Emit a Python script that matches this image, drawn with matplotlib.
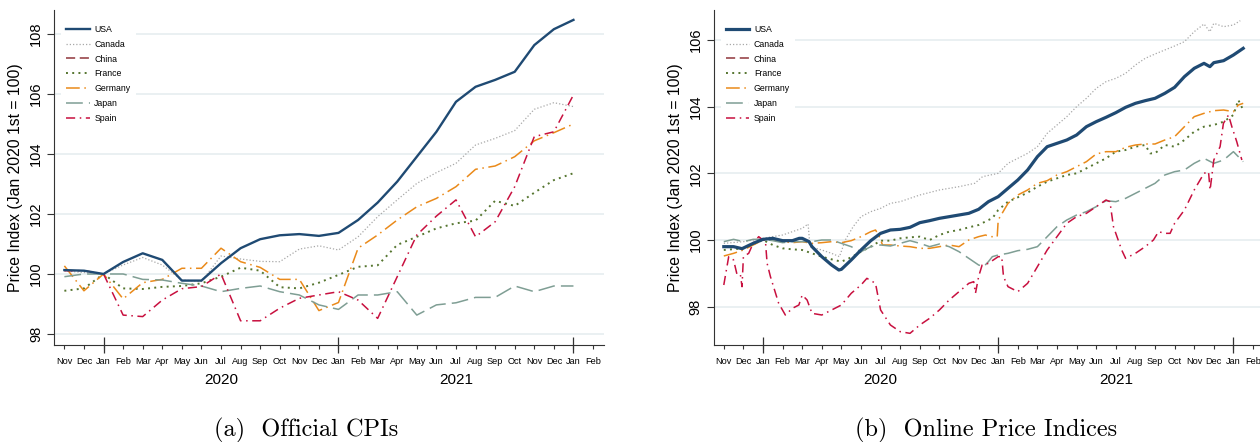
import matplotlib
matplotlib.use("Agg")
import matplotlib.pyplot as plt
import matplotlib.transforms as mtransforms

plt.rcParams['font.family'] = ['Liberation Sans', 'DejaVu Sans']

# ---------------- DATA ----------------
# x positions are months since Jan 2020 (0 = Jan 2020)
month_labels = ['Nov', 'Dec', 'Jan', 'Feb', 'Mar', 'Apr', 'May', 'Jun', 'Jul', 'Aug', 'Sep', 'Oct',
                'Nov', 'Dec', 'Jan', 'Feb', 'Mar', 'Apr', 'May', 'Jun', 'Jul', 'Aug', 'Sep', 'Oct',
                'Nov', 'Dec', 'Jan', 'Feb']
month_ticks = list(range(-2, 26))
year_ticks = [0, 12, 24]
year_labels = ['2020', '2021']
year_label_pos = [6, 18]
countries = ['USA', 'Canada', 'China', 'France', 'Germany', 'Japan', 'Spain']

# (a) Official CPIs, monthly Nov 2019 .. Jan 2022
cpi_months = list(range(-2, 25))
cpi_usa = [100.13, 100.11, 100.0, 100.4, 100.69, 100.47, 99.78, 99.78, 100.36, 100.86, 101.16, 101.29,
           101.33, 101.27, 101.37, 101.8, 102.38, 103.08, 103.91, 104.74, 105.74, 106.24, 106.47, 106.74,
           107.63, 108.16, 108.47]
cpi_canada = [100.1, 100.05, 100.0, 100.3, 100.55, 100.3, 99.8, 99.75, 100.6, 100.5, 100.42, 100.41,
              100.83, 100.94, 100.8, 101.24, 101.91, 102.47, 103.02, 103.38, 103.69, 104.3, 104.52, 104.78,
              105.49, 105.71, 105.58]
cpi_china_months = []
cpi_china = []
cpi_france = [99.44, 99.52, 100.0, 99.52, 99.5, 99.57, 99.6, 99.69, 99.91, 100.21, 100.11, 99.56,
              99.52, 99.71, 99.97, 100.24, 100.29, 100.97, 101.24, 101.52, 101.69, 101.78, 102.44, 102.27,
              102.71, 103.13, 103.36]
cpi_germany = [100.27, 99.44, 100.0, 99.17, 99.71, 99.82, 100.19, 100.19, 100.86, 100.41, 100.22, 99.82,
               99.82, 98.78, 99.05, 100.86, 101.3, 101.8, 102.24, 102.52, 102.91, 103.49, 103.6, 103.91,
               104.44, 104.71, 105.0]
cpi_japan = [99.91, 100.0, 100.0, 100.0, 99.82, 99.8, 99.69, 99.6, 99.41, 99.52, 99.6, 99.41,
             99.3, 98.97, 98.82, 99.3, 99.3, 99.41, 98.63, 98.97, 99.04, 99.22, 99.22, 99.6,
             99.41, 99.6, 99.6]
cpi_spain = [100.11, 100.11, 100.0, 98.63, 98.58, 99.13, 99.51, 99.58, 100.0, 98.44, 98.44, 98.86,
             99.19, 99.3, 99.41, 99.13, 98.52, 99.91, 101.3, 101.93, 102.47, 101.24, 101.74, 102.91,
             104.58, 104.74, 105.97]

# (b) Online Price Indices
opi_usa_m = [-2, -1.5, -1.07, -0.5, 0, 0.5, 1, 1.5, 1.85, 2.0, 2.35, 2.5, 3.0, 3.5, 3.87, 4.0, 4.5, 5.0,
             5.5, 6.0, 6.5, 7.0, 7.5, 8.0, 8.5, 9.0, 9.5, 10.0, 10.5, 11.0, 11.5, 12.0, 12.5, 13, 13.5, 14,
             14.5, 15, 15.5, 16, 16.5, 17, 17.5, 18, 18.5, 19, 19.5, 20, 20.5, 21, 21.5, 22, 22.5, 22.8,
             23, 23.5, 24, 24.5]
opi_usa = [99.8, 99.8, 99.74, 99.9, 100.02, 100.05, 99.98, 99.98, 100.05, 100.05, 99.95, 99.8, 99.5,
           99.25, 99.1, 99.12, 99.4, 99.7, 99.98, 100.2, 100.3, 100.32, 100.38, 100.52, 100.58, 100.65,
           100.7, 100.75, 100.8, 100.92, 101.15, 101.3, 101.55, 101.8, 102.1, 102.5, 102.8, 102.9, 103.0,
           103.15, 103.4, 103.55, 103.68, 103.82, 103.98, 104.1, 104.18, 104.25, 104.4, 104.58, 104.9,
           105.15, 105.3, 105.2, 105.32, 105.38, 105.55, 105.75]
opi_canada_m = [-2, -1, 0, 1, 1.5, 2.0, 2.3, 2.4, 3.0, 3.5, 3.9, 4.2, 4.6, 5.0, 5.5, 6.0, 6.5, 7.0, 7.5,
                8.0, 9.0, 10.0, 10.8, 11.2, 11.6, 12.0, 12.5, 13.5, 14.0, 14.5, 15.0, 15.5, 16.0, 16.5,
                17.0, 17.5, 18.0, 18.5, 19.0, 19.5, 20.0, 20.5, 21.0, 21.5, 22.0, 22.5, 22.8, 23.0, 23.5,
                24.0, 24.35]
opi_canada = [99.9, 99.95, 100.05, 100.15, 100.25, 100.35, 100.48, 99.8, 99.7, 99.6, 99.5, 100.0, 100.4,
              100.7, 100.85, 100.95, 101.1, 101.15, 101.25, 101.35, 101.5, 101.6, 101.7, 101.9, 101.95,
              102.0, 102.3, 102.6, 102.8, 103.2, 103.45, 103.7, 104.0, 104.25, 104.55, 104.75, 104.85,
              105.0, 105.25, 105.45, 105.58, 105.7, 105.82, 105.95, 106.25, 106.48, 106.25, 106.5, 106.4,
              106.45, 106.58]
opi_china_m = []
opi_china = []
opi_france_m = [-2, -1, 0, 0.5, 1, 1.5, 2, 2.5, 3, 3.5, 4, 4.5, 5, 5.5, 6, 6.5, 7, 7.5, 8, 8.5, 9, 9.5, 10,
                10.5, 11, 11.5, 11.7, 12.0, 12.5, 13, 13.5, 14, 14.5, 15, 15.5, 16, 16.5, 17, 17.5, 18,
                18.5, 19, 19.5, 19.75, 20, 20.5, 21, 21.5, 21.8, 22, 22.5, 23, 23.5, 24, 24.25, 24.5]
opi_france = [99.7, 99.75, 100.0, 99.85, 99.75, 99.72, 99.7, 99.6, 99.5, 99.42, 99.35, 99.48, 99.65, 99.8,
              99.98, 99.98, 100.05, 100.08, 100.1, 100.0, 100.15, 100.25, 100.3, 100.38, 100.45, 100.6,
              100.65, 100.9, 101.15, 101.28, 101.42, 101.6, 101.75, 101.85, 101.95, 102.0, 102.15, 102.3,
              102.45, 102.65, 102.7, 102.8, 102.85, 102.6, 102.6, 102.85, 102.8, 103.0, 103.15, 103.25,
              103.4, 103.45, 103.55, 103.75, 104.2, 103.9]
opi_germany_m = [-2, -1.5, -1, -0.5, 0, 0.5, 1, 1.5, 2, 2.5, 3, 3.5, 4, 4.5, 5, 5.5, 5.74, 5.9, 6.1, 6.5,
                 7, 7.5, 8, 8.5, 9, 9.5, 10, 10.5, 11, 11.35, 11.6, 11.95, 12.0, 12.5, 13, 13.5, 14, 14.5,
                 15, 15.5, 16, 16.5, 17, 17.5, 18, 18.5, 19, 19.5, 20, 20.5, 21, 21.5, 22, 22.5, 23, 23.5,
                 24, 24.25, 24.5]
opi_germany = [99.52, 99.6, 99.7, 99.85, 100.0, 100.02, 99.95, 99.92, 99.95, 99.9, 99.92, 99.95, 99.92,
               99.98, 100.1, 100.25, 100.3, 100.15, 99.85, 99.85, 99.82, 99.8, 99.75, 99.75, 99.8, 99.85,
               99.8, 100.0, 100.1, 100.15, 100.1, 100.1, 100.6, 101.1, 101.35, 101.5, 101.7, 101.78,
               101.95, 102.05, 102.2, 102.35, 102.58, 102.65, 102.65, 102.78, 102.85, 102.88, 102.88,
               103.0, 103.1, 103.4, 103.7, 103.8, 103.88, 103.9, 103.85, 104.05, 104.1]
opi_japan_m = [-2, -1.5, -1, -0.5, 0, 0.5, 1, 1.5, 2, 2.5, 3, 3.5, 4, 4.5, 5, 5.5, 6, 6.5, 7, 7.5, 8, 8.5,
               9, 9.5, 10, 10.5, 11, 11.26, 11.5, 11.7, 12, 12.5, 13, 13.5, 14, 14.5, 15, 15.5, 16, 16.5,
               17, 17.5, 18, 18.5, 19, 19.5, 20, 20.5, 21, 21.5, 22, 22.5, 23, 23.5, 24, 24.25, 24.5]
opi_japan = [99.95, 100.02, 99.95, 100.02, 100.02, 99.98, 99.92, 99.95, 99.95, 99.95, 100.0, 100.0, 99.9,
             99.8, 99.65, 99.8, 99.85, 99.82, 99.9, 99.98, 99.9, 99.8, 99.88, 99.8, 99.65, 99.45, 99.25,
             99.2, 99.35, 99.5, 99.55, 99.6, 99.68, 99.72, 99.8, 100.1, 100.4, 100.6, 100.75, 100.85,
             101.0, 101.18, 101.15, 101.25, 101.4, 101.55, 101.7, 101.95, 102.05, 102.1, 102.3, 102.45,
             102.3, 102.4, 102.65, 102.5, 102.35]
opi_spain_m = [-2.0, -1.75, -1.5, -1.32, -1.15, -1.07, -1.0, -0.73, -0.5, -0.22, 0.0, 0.12, 0.21, 0.38,
               0.8, 1.14, 1.5, 1.83, 2.0, 2.25, 2.5, 3.0, 3.5, 4.0, 4.5, 5.0, 5.3, 5.74, 6.0, 6.5, 7.0,
               7.5, 8.0, 8.5, 9.0, 9.5, 10.0, 10.5, 10.75, 10.84, 11.0, 11.18, 11.5, 12.0, 12.18, 12.27,
               12.5, 13.0, 13.5, 14.0, 14.5, 15.0, 15.5, 16.0, 16.5, 17.0, 17.5, 17.7, 17.88, 18.3, 18.5,
               19.0, 19.5, 19.92, 20.18, 20.5, 20.77, 21.0, 21.5, 22.0, 22.5, 22.73, 22.81, 23.0, 23.32,
               23.49, 23.75, 23.92, 24.17, 24.43]
opi_spain = [98.65, 99.5, 99.4, 98.95, 98.95, 98.6, 99.5, 99.6, 99.9, 100.1, 100.0, 100.0, 99.3, 98.9,
             98.1, 97.75, 97.95, 98.05, 98.35, 98.2, 97.8, 97.75, 97.9, 98.05, 98.4, 98.65, 98.85, 98.7,
             97.9, 97.45, 97.25, 97.2, 97.45, 97.65, 97.9, 98.2, 98.45, 98.7, 98.75, 98.4, 98.9, 99.25,
             99.3, 99.5, 99.5, 98.9, 98.6, 98.45, 98.7, 99.2, 99.7, 100.1, 100.5, 100.7, 100.8, 101.0,
             101.2, 101.15, 100.4, 99.7, 99.45, 99.6, 99.8, 100.0, 100.25, 100.2, 100.2, 100.5, 100.9,
             101.5, 102.0, 102.05, 101.5, 102.4, 102.8, 103.5, 103.75, 103.4, 102.95, 102.4]

# ---------------- STYLE ----------------
styles = {
    'USA':     dict(color='#1f4a73', ls='-'),
    'Canada':  dict(color='#a8a8a8', ls=(0, (1, 1.6))),
    'China':   dict(color='#90353b', ls=(0, (6, 3))),
    'France':  dict(color='#55752f', ls=(0, (1, 2.2))),
    'Germany': dict(color='#ea8a1a', ls=(0, (9, 3, 1, 3))),
    'Japan':   dict(color='#7f9e94', ls=(0, (11, 4))),
    'Spain':   dict(color='#c8103f', ls=(0, (6, 3, 1, 3))),
}

fig = plt.figure(figsize=(12.6, 4.42), dpi=100)
W, H = 1260.0, 442.0
axL = fig.add_axes([54 / W, 1 - 345 / H, 550 / W, 335 / H])
axR = fig.add_axes([713.6 / W, 1 - 345 / H, 550 / W, 335 / H])

cpi_x = {'USA': cpi_months, 'Canada': cpi_months, 'China': cpi_china_months, 'France': cpi_months,
         'Germany': cpi_months, 'Japan': cpi_months, 'Spain': cpi_months}
cpi_y = {'USA': cpi_usa, 'Canada': cpi_canada, 'China': cpi_china, 'France': cpi_france,
         'Germany': cpi_germany, 'Japan': cpi_japan, 'Spain': cpi_spain}
opi_x = {'USA': opi_usa_m, 'Canada': opi_canada_m, 'China': opi_china_m, 'France': opi_france_m,
         'Germany': opi_germany_m, 'Japan': opi_japan_m, 'Spain': opi_spain_m}
opi_y = {'USA': opi_usa, 'Canada': opi_canada, 'China': opi_china, 'France': opi_france,
         'Germany': opi_germany, 'Japan': opi_japan, 'Spain': opi_spain}

draw_order = ['Canada', 'China', 'France', 'Germany', 'Japan', 'Spain', 'USA']


def setup(ax, ylim, yticks, xlim, caption, cap_x, usa_lw, xs, ys):
    handles = {}
    for c in draw_order:
        st = styles[c]
        lw = usa_lw if c == 'USA' else 1.1
        if c == 'Canada':
            lw = 0.9
        if c == 'France':
            lw = 1.4
        h, = ax.plot(xs[c], ys[c], color=st['color'], linestyle=st['ls'], lw=lw, label=c,
                     zorder=3 if c != 'USA' else 4)
        handles[c] = h
    ax.set_ylim(*ylim)
    ax.set_xlim(*xlim)
    ax.set_yticks(yticks)
    ax.set_yticklabels([str(v) for v in yticks], fontsize=10.5)
    for lab in ax.get_yticklabels():
        lab.set_rotation(90)
        lab.set_va('center')
        lab.set_ha('right')
    ax.tick_params(axis='y', length=5, width=0.8, pad=3, color='#333333')
    ax.grid(axis='y', color='#e6eef0', lw=1.2, zorder=0)
    ax.set_axisbelow(True)
    for s in ('top', 'right'):
        ax.spines[s].set_visible(False)
    for s in ('left', 'bottom'):
        ax.spines[s].set_color('#333333')
        ax.spines[s].set_linewidth(0.8)
    ax.xaxis.remove_overlapping_locs = False
    ax.set_xticks(month_ticks, minor=True)
    ax.set_xticklabels(month_labels, minor=True, fontsize=6.6)
    ax.set_xticks(year_ticks)
    ax.set_xticklabels([''] * len(year_ticks))
    ax.tick_params(axis='x', which='minor', length=3, width=0.8, pad=6, color='#333333')
    ax.tick_params(axis='x', which='major', length=11, width=0.9, direction='inout', color='#333333')
    trans = mtransforms.blended_transform_factory(ax.transData, ax.transAxes)
    for p, t in zip(year_label_pos, year_labels):
        ax.text(p, -0.105, t, transform=trans, ha='center', va='center', fontsize=11)
    ax.set_ylabel('Price Index (Jan 2020 1st = 100)', fontsize=11.3, labelpad=4)
    leg = ax.legend([handles[c] for c in countries], countries, loc='upper left',
                    bbox_to_anchor=(0.005, 0.985), fontsize=6.3, frameon=True, fancybox=False,
                    edgecolor='none', facecolor='white', framealpha=1.0, handlelength=2.65,
                    handletextpad=0.55, labelspacing=0.68, borderpad=0.6)
    leg.set_zorder(5)
    fig.text(cap_x / W, 1 - 430 / H, caption, ha='center', va='center', fontsize=17.5,
             family=['cmr10', 'DejaVu Serif'])


setup(axL, (97.633, 108.8), [98, 100, 102, 104, 106, 108], (-2.53, 25.56),
      '(a)  Official CPIs', 306, 1.7, cpi_x, cpi_y)
setup(axR, (96.85, 106.9), [98, 100, 102, 104, 106], (-2.52, 25.54),
      '(b)  Online Price Indices', 986, 2.3, opi_x, opi_y)

fig.savefig('out.png', dpi=100)
